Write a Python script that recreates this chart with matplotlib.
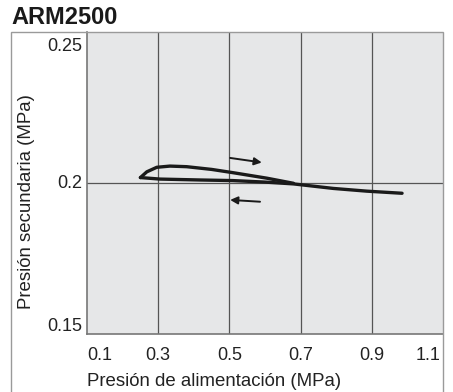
import matplotlib
matplotlib.use("Agg")
import matplotlib.pyplot as plt
from matplotlib.patches import Rectangle

title = "ARM2500"
xlabel = "Presión de alimentación (MPa)"
ylabel = "Presión secundaria (MPa)"
xticks = [0.1, 0.3, 0.5, 0.7, 0.9, 1.1]
xtick_labels = ["0.1", "0.3", "0.5", "0.7", "0.9", "1.1"]
yticks = [0.15, 0.2, 0.25]
ytick_labels = ["0.15", "0.2", "0.25"]

# rising branch (upper)
up_x = [0.250, 0.268, 0.296, 0.333, 0.380, 0.450, 0.511, 0.605, 0.680]
up_y = [0.2018, 0.2037, 0.2052, 0.2056, 0.2054, 0.2045, 0.2034, 0.2016, 0.1999]
# falling branch (lower)
down_x = [0.985, 0.886, 0.792, 0.680, 0.600, 0.510, 0.417, 0.305, 0.250]
down_y = [0.1966, 0.1973, 0.1982, 0.1997, 0.2003, 0.2008, 0.2010, 0.2013, 0.2018]

fig = plt.figure(figsize=(4.53, 3.92), dpi=100)
W, H = 453, 392
ax = fig.add_axes([87 / W, 1 - 334 / H, (443 - 87) / W, (334 - 32) / H])
ax.set_facecolor("#e6e7e8")

# outer frame
fig.patches.append(Rectangle((11 / W, -0.01), (443 - 11) / W, (392 - 32) / H + 0.01,
                             transform=fig.transFigure, fill=False,
                             edgecolor="#9a9a9a", linewidth=1.0, zorder=0))

ax.set_xlim(0.1, 1.1)
ax.set_ylim(0.15, 0.25)
for v in xticks[1:-1]:
    ax.axvline(v, color="#555555", linewidth=0.9, zorder=1)
ax.axhline(0.2, color="#555555", linewidth=0.9, zorder=1)

ax.plot(up_x, up_y, color="#1a1a1a", linewidth=2.4, zorder=3, solid_capstyle="round")
ax.plot(down_x, down_y, color="#1a1a1a", linewidth=2.4, zorder=3, solid_capstyle="round")

ax.annotate("", xy=(0.591, 0.2068), xytext=(0.502, 0.2083),
            arrowprops=dict(arrowstyle="-|>", color="#1a1a1a", lw=1.4,
                            mutation_scale=11, shrinkA=0, shrinkB=0))
ax.annotate("", xy=(0.502, 0.1944), xytext=(0.586, 0.1938),
            arrowprops=dict(arrowstyle="-|>", color="#1a1a1a", lw=1.4,
                            mutation_scale=11, shrinkA=0, shrinkB=0))

ax.set_xticks([])
ax.set_yticks([])
for s in ["top", "right"]:
    ax.spines[s].set_visible(False)
ax.spines["left"].set_color("#777777")
ax.spines["bottom"].set_color("#777777")
ax.spines["left"].set_linewidth(1.2)
ax.spines["bottom"].set_linewidth(1.2)

fs = 13
for v, lab in zip(xticks, xtick_labels):
    ha = "center"
    if v == xticks[0]:
        ha = "left"
    elif v == xticks[-1]:
        ha = "right"
    xx = v + (0.0 if ha == "left" else (-0.008 if ha == "right" else 0))
    ax.text(xx, -0.042, lab, transform=ax.get_xaxis_transform(), ha=ha, va="top",
            fontsize=fs, color="#222222", family="Liberation Sans")
offs = {0.15: 0.0026, 0.2: 0.0, 0.25: -0.0048}
for v, lab in zip(yticks, ytick_labels):
    ax.text(-0.014, v + offs[v], lab, transform=ax.get_yaxis_transform(), ha="right",
            va="center", fontsize=fs, color="#222222", family="Liberation Sans")

fig.text(87 / W, 1 - 382 / H, xlabel, ha="left", va="center", fontsize=13.4,
         color="#222222", family="Liberation Sans")
fig.text(27 / W, 1 - 202 / H, ylabel, ha="center", va="center", rotation=90,
         fontsize=13.4, color="#222222", family="Liberation Sans")
fig.text(11 / W, 1 - 18 / H, title, ha="left", va="center", fontsize=17,
         fontweight="bold", color="#1a1a1a", family="Liberation Sans")

fig.savefig("out.png", dpi=100)
